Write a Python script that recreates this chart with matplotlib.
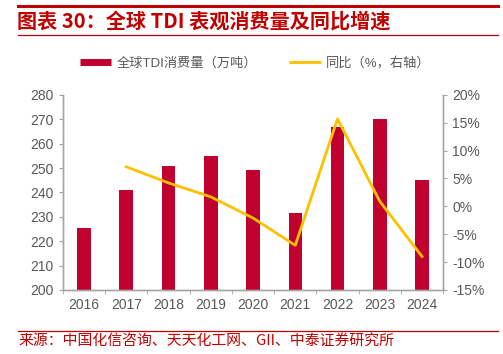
import matplotlib.pyplot as plt
from matplotlib.lines import Line2D

plt.rcParams['font.family'] = ['Liberation Sans', 'Noto Sans CJK SC', 'DejaVu Sans']

# data
years = ['2016', '2017', '2018', '2019', '2020', '2021', '2022', '2023', '2024']
consumption = [225.3, 241, 251, 255, 249, 231.5, 267, 270, 245]
yoy_years = years[1:]
yoy = [7.1, 4.2, 1.7, -2.1, -7.0, 15.7, 0.9, -9.0]

bar_color = '#C0002F'
line_color = '#FFC000'
axis_gray = '#A6A6A6'
text_gray = '#595959'
red = '#C00000'

fig = plt.figure(figsize=(5.03, 3.54), dpi=100)

# header / footer decorations
fig.add_artist(Line2D([0.036, 0.99], [0.983, 0.983], color='#C00000', lw=2.2))
fig.add_artist(Line2D([0.036, 0.99], [0.901, 0.901], color='#C00000', lw=0.9))
fig.add_artist(Line2D([0.036, 0.99], [0.066, 0.066], color='#C00000', lw=0.9))
fig.text(0.034, 0.94, '图表 30：全球 TDI 表观消费量及同比增速', color=red,
         fontsize=14.5, fontweight='bold', va='center', ha='left',
         family=['Noto Sans CJK SC', 'DejaVu Sans'])
fig.text(0.036, 0.038, '来源：中国化信咨询、天天化工网、GII、中泰证券研究所', color=red,
         fontsize=10.7, va='center', ha='left',
         family=['Noto Sans CJK SC', 'DejaVu Sans'])

ax = fig.add_axes([0.125, 0.181, 0.756, 0.551])
x = list(range(len(years)))
ax.bar(x, consumption, width=0.32, color=bar_color, zorder=2)
ax.set_ylim(200, 280)
ax.set_yticks(range(200, 281, 10))
ax.set_xlim(-0.5, len(years) - 0.5)
ax.set_xticks(x)
ax.set_xticklabels(years)
ax.set_xticks([i + 0.5 for i in range(-1, len(years))], minor=True)
ax.tick_params(axis='x', which='major', length=0, pad=6)
ax.tick_params(axis='x', which='minor', length=3, color=axis_gray)
ax.tick_params(axis='y', length=3, color=axis_gray)
ax.tick_params(labelsize=10, labelcolor=text_gray)

ax2 = ax.twinx()
ax2.plot([years.index(y) for y in yoy_years], yoy, color=line_color, lw=2, zorder=3)
ax2.set_ylim(-15, 20)
ax2.set_yticks(range(-15, 21, 5))
ax2.set_yticklabels([f'{v}%' for v in range(-15, 21, 5)])
ax2.tick_params(axis='y', length=3, color=axis_gray, labelsize=10, labelcolor=text_gray)

for a in (ax, ax2):
    a.spines['top'].set_visible(False)
    for s in ('left', 'right', 'bottom'):
        a.spines[s].set_color(axis_gray)
        a.spines[s].set_linewidth(1)

handles = [Line2D([], [], color=bar_color, lw=5, solid_capstyle='butt'),
           Line2D([], [], color=line_color, lw=2, solid_capstyle='butt')]
labels = ['全球TDI消费量（万吨）', '同比（%，右轴）']
fig.legend(handles, labels, loc='center', bbox_to_anchor=(0.507, 0.822), ncol=2,
           frameon=False, handlelength=2.4, columnspacing=2.4,
           handletextpad=0.4, labelcolor=text_gray,
           prop={'family': ['Liberation Sans', 'Noto Sans CJK SC'], 'size': 9.5})

fig.savefig('out.png', dpi=100)
